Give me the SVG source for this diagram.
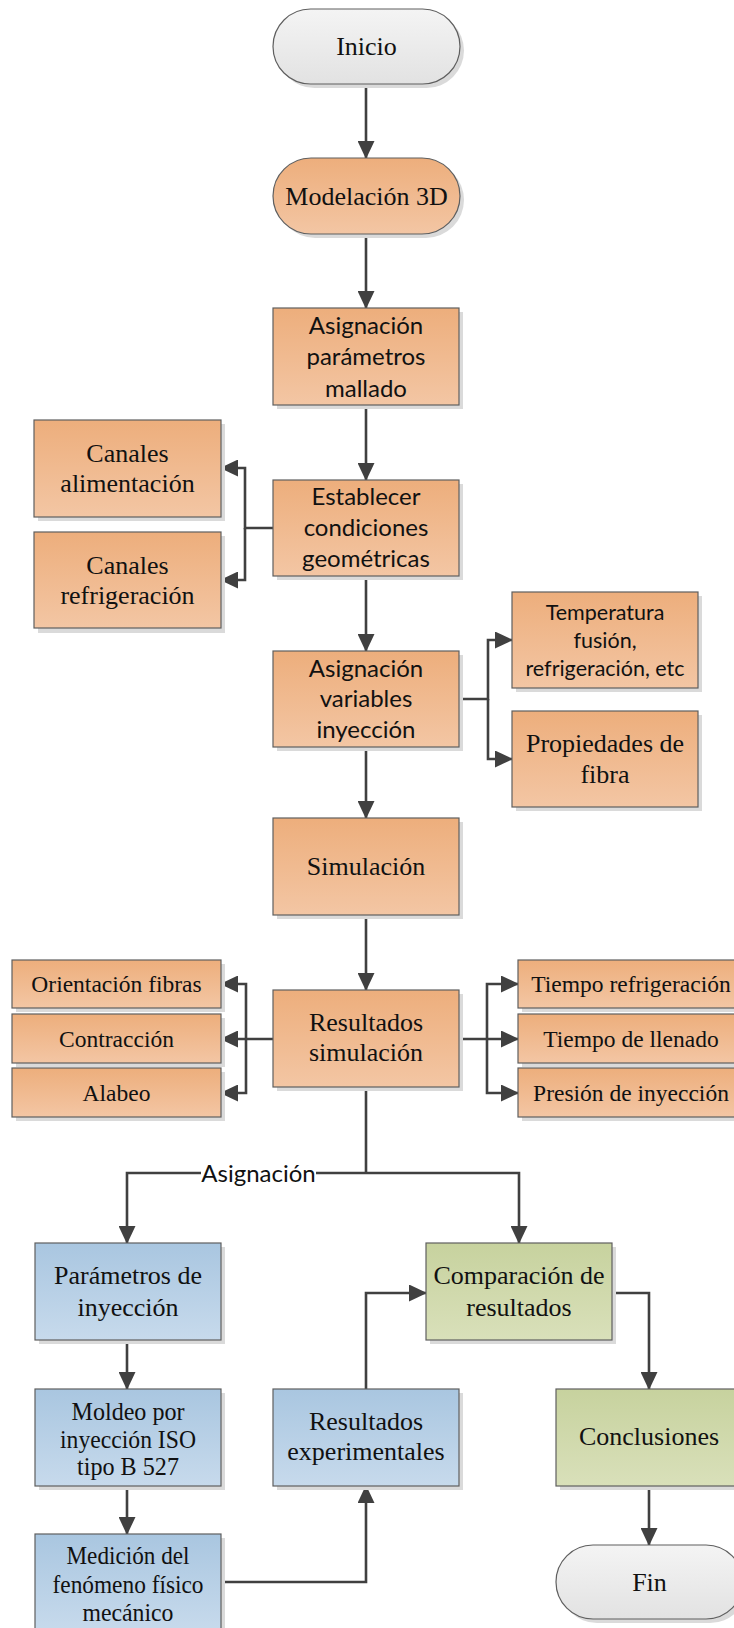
<svg xmlns="http://www.w3.org/2000/svg" width="734" height="1628" viewBox="0 0 734 1628">
<defs>
<linearGradient id="gO" x1="0" y1="0" x2="0" y2="1"><stop offset="0" stop-color="#EDAE7C"/><stop offset="1" stop-color="#F3C6A4"/></linearGradient>
<linearGradient id="gB" x1="0" y1="0" x2="0" y2="1"><stop offset="0" stop-color="#A9C6E0"/><stop offset="1" stop-color="#C7DAEC"/></linearGradient>
<linearGradient id="gG" x1="0" y1="0" x2="0" y2="1"><stop offset="0" stop-color="#C7D29E"/><stop offset="1" stop-color="#D9E0BA"/></linearGradient>
<linearGradient id="gW" x1="0" y1="0" x2="0" y2="1"><stop offset="0" stop-color="#F4F4F4"/><stop offset="1" stop-color="#E2E2E2"/></linearGradient>
<marker id="ar" markerUnits="userSpaceOnUse" markerWidth="18" markerHeight="17" refX="17" refY="8.5" orient="auto">
<path d="M0,0 L18,8.5 L0,17 Z" fill="#404040"/>
</marker>
</defs>
<style>
.sh{fill:#DADADA}
.o{fill:url(#gO);stroke:#5F5F5F;stroke-width:1.2}
.b{fill:url(#gB);stroke:#5F5F5F;stroke-width:1.2}
.g{fill:url(#gG);stroke:#5F5F5F;stroke-width:1.2}
.w{fill:url(#gW);stroke:#5F5F5F;stroke-width:1.2}
.s{font-family:"Liberation Serif","Times New Roman",serif;font-size:26px;fill:#111;text-anchor:middle}
.ss{font-family:"Liberation Serif","Times New Roman",serif;font-size:23.5px;fill:#111;text-anchor:middle}
.c{font-family:Lato,"Liberation Sans",sans-serif;font-size:24px;fill:#111;text-anchor:middle}
.cs{font-family:Lato,"Liberation Sans",sans-serif;font-size:21.5px;fill:#111;text-anchor:middle}
.ln{fill:none;stroke:#404040;stroke-width:2.6}
.la{fill:none;stroke:#404040;stroke-width:2.6;marker-end:url(#ar)}
</style>

<g id="connectors">
<path class="la" d="M366,84 V158"/>
<path class="la" d="M366,234 V308"/>
<path class="la" d="M366,405 V480"/>
<path class="la" d="M273,528 H245 V468 H221"/>
<path class="la" d="M245,528 V580 H221"/>
<path class="la" d="M366,576 V651"/>
<path class="la" d="M459,699 H488 V640 H512"/>
<path class="la" d="M488,699 V759 H512"/>
<path class="la" d="M366,747 V818"/>
<path class="la" d="M366,915 V990"/>
<path class="la" d="M273,1039 H221"/>
<path class="la" d="M246,1039 V984 H221"/>
<path class="la" d="M246,1039 V1093 H221"/>
<path class="la" d="M459,1039 H518"/>
<path class="la" d="M487,1039 V984 H518"/>
<path class="la" d="M487,1039 V1093 H518"/>
<path class="ln" d="M366,1087 V1173"/>
<path class="la" d="M366,1173 H127 V1243"/>
<path class="la" d="M366,1173 H519 V1243"/>
<rect x="201" y="1160" width="115" height="28" fill="#FFFFFF"/>
<text class="c" x="258.5" y="1182">Asignación</text>
<path class="la" d="M127,1340 V1389"/>
<path class="la" d="M127,1486 V1534"/>
<path class="la" d="M221,1582 H366 V1486"/>
<path class="la" d="M366,1389 V1293 H426"/>
<path class="la" d="M612,1293 H649 V1389"/>
<path class="la" d="M649,1486 V1545"/>
</g>

<g id="inicio">
<rect class="sh" x="277" y="13" width="187" height="75" rx="37.5"/>
<rect class="w" x="273" y="9" width="187" height="75" rx="37.5"/>
<text class="s" x="366.5" y="54.5">Inicio</text>
</g>

<g id="modelacion">
<rect class="sh" x="277" y="162" width="187" height="76" rx="38"/>
<rect class="o" x="273" y="158" width="187" height="76" rx="38"/>
<text class="s" x="366.5" y="204.5">Modelación 3D</text>
</g>

<g id="asig-param">
<rect class="sh" x="277" y="312" width="186" height="97"/>
<rect class="o" x="273" y="308" width="186" height="97"/>
<text class="c" x="366" y="333.5">Asignación</text>
<text class="c" x="366" y="365">parámetros</text>
<text class="c" x="366" y="396.5">mallado</text>
</g>

<g id="establecer">
<rect class="sh" x="277" y="484" width="186" height="96"/>
<rect class="o" x="273" y="480" width="186" height="96"/>
<text class="c" x="366" y="504.5">Establecer</text>
<text class="c" x="366" y="536">condiciones</text>
<text class="c" x="366" y="567">geométricas</text>
</g>

<g id="canales-alim">
<rect class="sh" x="38" y="424" width="187" height="97"/>
<rect class="o" x="34" y="420" width="187" height="97"/>
<text class="s" x="127.5" y="462">Canales</text>
<text class="s" x="127.5" y="492">alimentación</text>
</g>

<g id="canales-refr">
<rect class="sh" x="38" y="536" width="187" height="97"/>
<rect class="o" x="34" y="532" width="187" height="96"/>
<text class="s" x="127.5" y="574">Canales</text>
<text class="s" x="127.5" y="604">refrigeración</text>
</g>

<g id="asig-var">
<rect class="sh" x="277" y="655" width="186" height="96"/>
<rect class="o" x="273" y="651" width="186" height="96"/>
<text class="c" x="366" y="677">Asignación</text>
<text class="c" x="366" y="707">variables</text>
<text class="c" x="366" y="737.5">inyección</text>
</g>

<g id="temperatura">
<rect class="sh" x="516" y="596" width="186" height="96"/>
<rect class="o" x="512" y="592" width="186" height="96"/>
<text class="cs" x="605" y="619.5">Temperatura</text>
<text class="cs" x="605" y="648">fusión,</text>
<text class="cs" x="605" y="676">refrigeración, etc</text>
</g>

<g id="propiedades">
<rect class="sh" x="516" y="715" width="186" height="96"/>
<rect class="o" x="512" y="711" width="186" height="96"/>
<text class="s" x="605" y="752">Propiedades de</text>
<text class="s" x="605" y="783">fibra</text>
</g>

<g id="simulacion">
<rect class="sh" x="277" y="822" width="186" height="97"/>
<rect class="o" x="273" y="818" width="186" height="97"/>
<text class="s" x="366" y="875">Simulación</text>
</g>

<g id="resultados-sim">
<rect class="sh" x="277" y="994" width="186" height="97"/>
<rect class="o" x="273" y="990" width="186" height="97"/>
<text class="s" x="366" y="1031">Resultados</text>
<text class="s" x="366" y="1061">simulación</text>
</g>

<g id="orientacion">
<rect class="sh" x="16" y="964" width="209" height="48"/>
<rect class="o" x="12" y="960" width="209" height="48"/>
<text class="ss" x="116.5" y="992">Orientación fibras</text>
</g>

<g id="contraccion">
<rect class="sh" x="16" y="1018" width="209" height="49"/>
<rect class="o" x="12" y="1014" width="209" height="49"/>
<text class="ss" x="116.5" y="1046.5">Contracción</text>
</g>

<g id="alabeo">
<rect class="sh" x="16" y="1072" width="209" height="49"/>
<rect class="o" x="12" y="1068" width="209" height="49"/>
<text class="ss" x="116.5" y="1100.5">Alabeo</text>
</g>

<g id="tiempo-refr">
<rect class="sh" x="522" y="964" width="226" height="48"/>
<rect class="o" x="518" y="960" width="226" height="48"/>
<text class="ss" x="631" y="992">Tiempo refrigeración</text>
</g>

<g id="tiempo-llenado">
<rect class="sh" x="522" y="1018" width="226" height="49"/>
<rect class="o" x="518" y="1014" width="226" height="49"/>
<text class="ss" x="631" y="1046.5">Tiempo de llenado</text>
</g>

<g id="presion">
<rect class="sh" x="522" y="1072" width="226" height="49"/>
<rect class="o" x="518" y="1068" width="226" height="49"/>
<text class="ss" x="631" y="1100.5">Presión de inyección</text>
</g>

<g id="parametros">
<rect class="sh" x="39" y="1247" width="186" height="97"/>
<rect class="b" x="35" y="1243" width="186" height="97"/>
<text class="s" x="128" y="1284">Parámetros de</text>
<text class="s" x="128" y="1315.5">inyección</text>
</g>

<g id="comparacion">
<rect class="sh" x="430" y="1247" width="186" height="97"/>
<rect class="g" x="426" y="1243" width="186" height="97"/>
<text class="s" x="519" y="1284">Comparación de</text>
<text class="s" x="519" y="1315.5">resultados</text>
</g>

<g id="moldeo">
<rect class="sh" x="39" y="1393" width="186" height="97"/>
<rect class="b" x="35" y="1389" width="186" height="97"/>
<text class="s" x="128" y="1420" textLength="113" lengthAdjust="spacingAndGlyphs">Moldeo por</text>
<text class="s" x="128" y="1447.5" textLength="136" lengthAdjust="spacingAndGlyphs">inyección ISO</text>
<text class="s" x="128" y="1475" textLength="102" lengthAdjust="spacingAndGlyphs">tipo B 527</text>
</g>

<g id="resultados-exp">
<rect class="sh" x="277" y="1393" width="186" height="97"/>
<rect class="b" x="273" y="1389" width="186" height="97"/>
<text class="s" x="366" y="1429.5">Resultados</text>
<text class="s" x="366" y="1459.5">experimentales</text>
</g>

<g id="conclusiones">
<rect class="sh" x="560" y="1393" width="186" height="97"/>
<rect class="g" x="556" y="1389" width="186" height="97"/>
<text class="s" x="649" y="1445">Conclusiones</text>
</g>

<g id="medicion">
<rect class="sh" x="39" y="1538" width="186" height="97"/>
<rect class="b" x="35" y="1534" width="186" height="97"/>
<text class="s" x="128" y="1563.5" textLength="123" lengthAdjust="spacingAndGlyphs">Medición del</text>
<text class="s" x="128" y="1592.5" textLength="151" lengthAdjust="spacingAndGlyphs">fenómeno físico</text>
<text class="s" x="128" y="1620.5" textLength="91" lengthAdjust="spacingAndGlyphs">mecánico</text>
</g>

<g id="fin">
<rect class="sh" x="560" y="1549" width="187" height="74" rx="37"/>
<rect class="w" x="556" y="1545" width="187" height="74" rx="37"/>
<text class="s" x="649.5" y="1591">Fin</text>
</g>
</svg>
